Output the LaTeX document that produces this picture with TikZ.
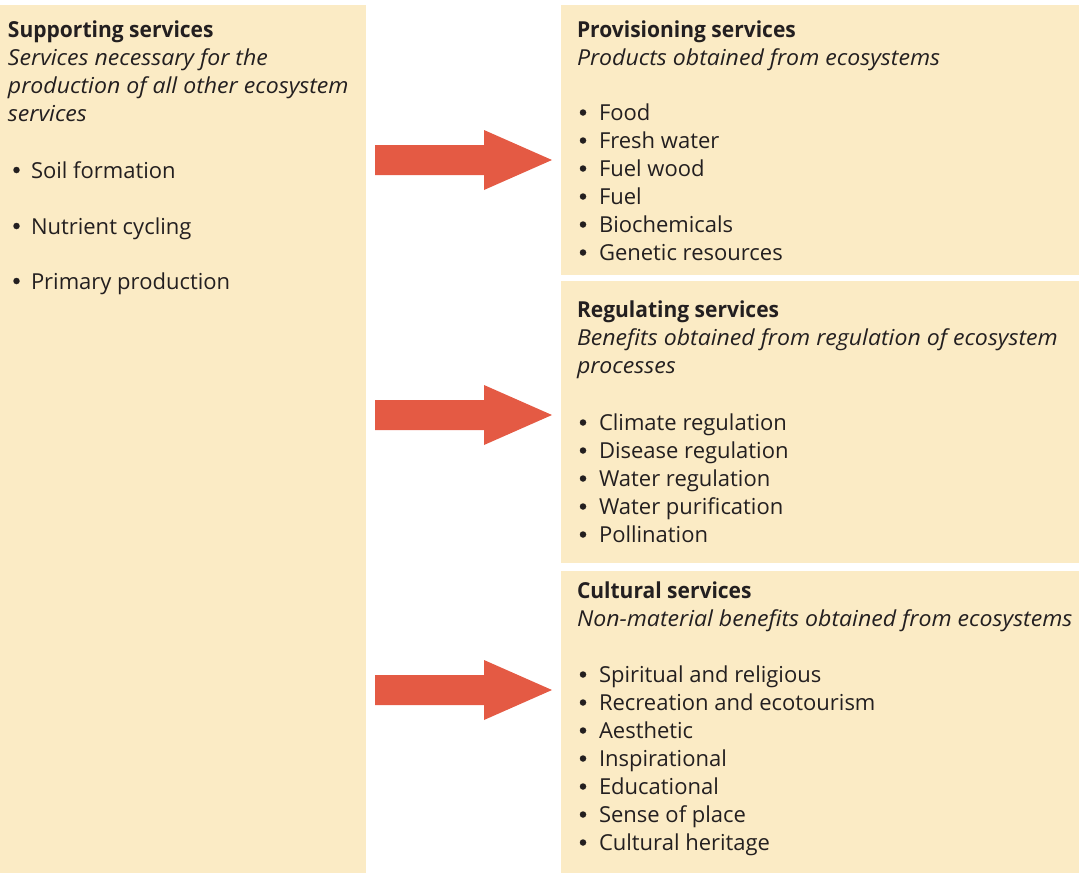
\documentclass[tikz,border=0pt]{standalone}
\usepackage{fontspec}
\setmainfont{Open Sans}[
  BoldFeatures={FakeStretch=0.955},
  ItalicFeatures={FakeStretch=1.05}]
\definecolor{boxfill}{RGB}{251,235,197}
\definecolor{arrowred}{RGB}{228,90,68}
\definecolor{ink}{RGB}{35,31,32}
\begin{document}
\begin{tikzpicture}[x=1pt,y=-1pt,
  panel/.style={fill=boxfill,draw=none},
  bigarrow/.style={fill=arrowred,draw=none},
  txt/.style={anchor=base west,inner sep=0pt,outer sep=0pt,text=ink,font=\fontsize{22}{28}\selectfont},
  head/.style={txt,font=\fontsize{22}{28}\selectfont\bfseries},
  sub/.style={txt,font=\fontsize{22}{28}\selectfont\itshape},
  dot/.style={circle,fill=ink,draw=none,inner sep=0pt,minimum size=6.5pt}
]
\useasboundingbox (0,0) rectangle (1079,873);
% panels
\path[panel] (0,5) rectangle (366,873);
\path[panel] (561,5) rectangle (1079,275);
\path[panel] (561,281) rectangle (1079,563);
\path[panel] (561,571) rectangle (1079,873);
% arrows
\foreach \c in {160,415,690}{
  \path[bigarrow] (375,\c-15) -- (484,\c-15) -- (484,\c-30) -- (552,\c) -- (484,\c+30) -- (484,\c+15) -- (375,\c+15) -- cycle;
}
% left
\node[head] (s0) at (8,37) {Supporting services};
\node[sub] (s1) at (8,65) {Services necessary for the};
\node[sub] (s2) at (8,93) {production of all other ecosystem};
\node[sub] (s3) at (8,121) {services};
\foreach \t/\y/\n in {Soil formation/178/sa,Nutrient cycling/234/sb,Primary production/289/sc}{
  \node[dot] (\n b) at (16.5,\y-8) {};
  \node[txt] (\n) at (31,\y) {\t};
}
% provisioning
\node[head] (p0) at (577,37) {Provisioning services};
\node[sub] (p1) at (577,65) {Products obtained from ecosystems};
\foreach \t/\y/\n in {Food/120/pa,Fresh water/148/pb,Fuel wood/176/pc,Fuel/204/pd,Biochemicals/232/pe,Genetic resources/260/pf}{
  \node[dot] (\n b) at (583,\y-7.5) {};
  \node[txt] (\n) at (599,\y) {\t};
}
% regulating
\node[head] (r0) at (577,317) {Regulating services};
\node[sub] (r1) at (577,345) {Benefits obtained from regulation of ecosystem};
\node[sub] (r2) at (577,373) {processes};
\foreach \t/\y/\n in {Climate regulation/430/ra,Disease regulation/458/rb,Water regulation/486/rc,Water purification/514/rd,Pollination/542/re}{
  \node[dot] (\n b) at (583,\y-7.5) {};
  \node[txt] (\n) at (599,\y) {\t};
}
% cultural
\node[head] (c0) at (577,598) {Cultural services};
\node[sub] (c1) at (577,626) {Non-material benefits obtained from ecosystems};
\foreach \t/\y/\n in {Spiritual and religious/682/ca,Recreation and ecotourism/710/cb,Aesthetic/738/cc,Inspirational/766/cd,Educational/794/ce,Sense of place/822/cf,Cultural heritage/850/cg}{
  \node[dot] (\n b) at (583,\y-7.5) {};
  \node[txt] (\n) at (599,\y) {\t};
}
\end{tikzpicture}
\end{document}
